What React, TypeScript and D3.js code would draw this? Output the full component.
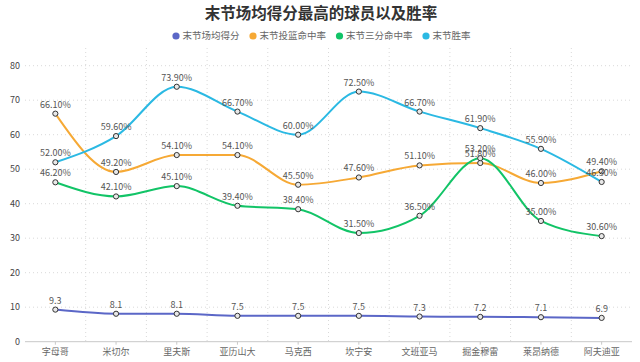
import * as d3 from "d3";

const players = ["字母哥", "米切尔", "里夫斯", "亚历山大", "马克西", "坎宁安", "文班亚马", "掘金穆雷", "莱昂纳德", "阿夫迪亚"];
const avgPoints = [9.3, 8.1, 8.1, 7.5, 7.5, 7.5, 7.3, 7.2, 7.1, 6.9];
const fgPct = [66.1, 49.2, 54.1, 54.1, 45.5, 47.6, 51.1, 51.8, 46.0, 49.4];
const threePct = [46.2, 42.1, 45.1, 39.4, 38.4, 31.5, 36.5, 53.2, 35.0, 30.6];
const winPct = [52.0, 59.6, 73.9, 66.7, 60.0, 72.5, 66.7, 61.9, 55.9, 46.3];
const yTicks = [0, 10, 20, 30, 40, 50, 60, 70, 80];

const seriesList = [
  { name: "末节场均得分", values: avgPoints, color: "#5b67c7", pct: false },
  { name: "末节投篮命中率", values: fgPct, color: "#f6a935", pct: true },
  { name: "末节三分命中率", values: threePct, color: "#12c467", pct: true },
  { name: "末节胜率", values: winPct, color: "#2bb9e3", pct: true },
];

const W = 640;
const H = 362;
const margin = { top: 48, right: 8, bottom: 20, left: 25 };
const font = "'Noto Sans CJK SC', 'Noto Sans', sans-serif";

export default function App() {
  const x = d3
    .scaleBand<string>()
    .domain(players)
    .range([margin.left, W - margin.right]);
  const y = d3.scaleLinear().domain([0, 80]).range([341.7, 65.7]);

  const line = d3
    .line<number>()
    .x((_, i) => (x(players[i]) ?? 0) + x.bandwidth() / 2)
    .y((d) => y(d))
    .curve(d3.curveMonotoneX);

  // legend layout, centred under the title
  const fs = 9.5;
  const itemW = seriesList.map((s) => 7 + s.name.length * fs);
  const gap = 13;
  const totalW = d3.sum(itemW) + gap * (seriesList.length - 1);
  let lx = W / 2 - totalW / 2;
  const legendX = itemW.map((w) => {
    const p = lx;
    lx += w + gap;
    return p;
  });

  return (
    <svg
      width={W}
      height={H}
      style={{ position: "absolute", left: 0, top: 0, background: "#fff" }}
      fontFamily={font}
    >
      <text x={321} y={19} textAnchor="middle" fontSize={15.5} fontWeight="bold" fill="#333">
        末节场均得分最高的球员以及胜率
      </text>

      {seriesList.map((s, i) => (
        <g key={s.name} transform={`translate(${legendX[i]},36)`}>
          <circle cx={3.5} cy={0} r={3.6} fill={s.color} />
          <text x={10} y={0} dy="0.35em" fontSize={fs} fill="#666">
            {s.name}
          </text>
        </g>
      ))}

      {/* grid */}
      {yTicks.map((t) => (
        <g key={t}>
          {t > 0 && (
            <line
              x1={margin.left}
              x2={W - margin.right}
              y1={y(t)}
              y2={y(t)}
              stroke="#d9d9d9"
              strokeDasharray="1,3"
            />
          )}
          <text x={20} y={y(t)} dy="0.35em" textAnchor="end" fontSize={9} fill="#444">
            {t}
          </text>
        </g>
      ))}
      {players.slice(1).map((p) => (
        <line
          key={p}
          x1={x(p)}
          x2={x(p)}
          y1={margin.top}
          y2={y(0)}
          stroke="#d9d9d9"
          strokeDasharray="1,3"
        />
      ))}

      {/* x axis */}
      <line x1={margin.left} x2={W - margin.right} y1={y(0)} y2={y(0)} stroke="#c8c8c8" />
      {players.map((p) => {
        const cx = (x(p) ?? 0) + x.bandwidth() / 2;
        return (
          <g key={p}>
            <line x1={cx} x2={cx} y1={y(0)} y2={y(0) + 3} stroke="#c8c8c8" />
            <text x={cx} y={352} dy="0.35em" textAnchor="middle" fontSize={9} fill="#666">
              {p}
            </text>
          </g>
        );
      })}

      {/* series */}
      {seriesList.map((s) => (
        <path key={s.name} d={line(s.values) ?? ""} fill="none" stroke={s.color} strokeWidth={2} />
      ))}
      {seriesList.map((s) => (
        <g key={s.name + "-pts"}>
          {s.values.map((v, i) => {
            const cx = (x(players[i]) ?? 0) + x.bandwidth() / 2;
            return (
              <g key={i}>
                <circle cx={cx} cy={y(v)} r={2.6} fill="#e8e8e8" stroke="#333" strokeWidth={1} />
                <text x={cx} y={y(v) - 6} textAnchor="middle" fontSize={9} fill="#555">
                  {s.pct ? `${v.toFixed(2)}%` : v.toFixed(1)}
                </text>
              </g>
            );
          })}
        </g>
      ))}
    </svg>
  );
}
